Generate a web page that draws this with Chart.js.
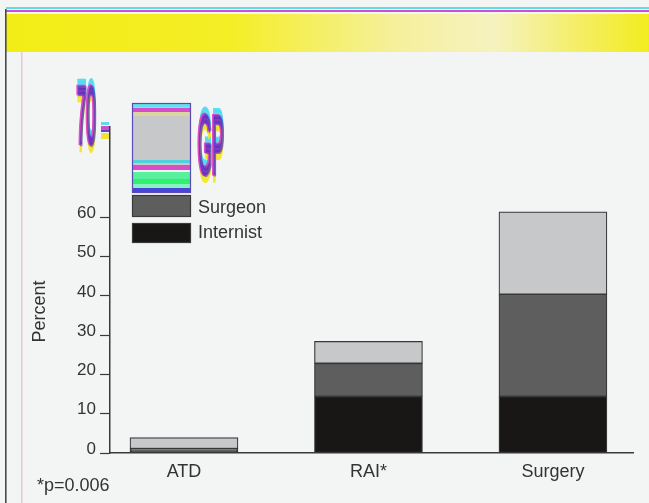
<!DOCTYPE html>
<html>
<head>
<meta charset="utf-8">
<script src="https://cdn.jsdelivr.net/npm/chart.js@4/dist/chart.umd.min.js"></script>
<style>
  html, body { margin: 0; padding: 0; background: #f3f5f5; }
  #wrap { width: 649px; height: 503px; }
</style>
</head>
<body>
<div id="wrap"><canvas id="c" width="649" height="503"></canvas></div>
<script>
// Share of patients per treatment, split by referring physician (%)
const categories = ['ATD', 'RAI*', 'Surgery'];
const internist = [0.5, 14.4, 14.4];
const surgeon = [0.6, 8.4, 26.0];
const gp = [2.8, 5.6, 21.0];
const seriesNames = ['Internist', 'Surgeon', 'GP'];
const yTicks = [0, 10, 20, 30, 40, 50, 60, 70];
const footnote = '*p=0.006';
const yTitle = 'Percent';

const FONT = '"Liberation Sans", Arial, Helvetica, sans-serif';
const TEXT = '#333333';
const fills = ['#181716', '#5e5e5e', '#c6c8ca'];

const toPoints = arr => arr.map((v, i) => ({ x: i, y: v }));

// page frame, banner, axis title, footnote and the legend block
const decor = {
  id: 'decor',
  beforeDraw(chart) {
    const ctx = chart.ctx;
    ctx.save();
    ctx.fillStyle = '#f3f5f5';
    ctx.fillRect(0, 0, chart.width, chart.height);
    // banner
    const g = ctx.createLinearGradient(6, 0, 649, 0);
    g.addColorStop(0, '#f2ec16');
    g.addColorStop(0.35, '#f4ee26');
    g.addColorStop(0.6, '#f5f09a');
    g.addColorStop(0.76, '#f5f2c0');
    g.addColorStop(0.9, '#f4ee60');
    g.addColorStop(1, '#f2ec1e');
    ctx.fillStyle = g;
    ctx.fillRect(6, 14, 643, 38);
    ctx.fillStyle = '#5fdde6';
    ctx.fillRect(6, 7, 643, 2);
    ctx.fillStyle = '#d04ed6';
    ctx.fillRect(6, 10, 643, 2);
    // left rule
    ctx.fillStyle = '#4a4a4a';
    ctx.fillRect(5, 9, 1.6, 494);
    ctx.fillStyle = 'rgba(230,140,170,0.45)';
    ctx.fillRect(21, 52, 1.5, 451);
    ctx.restore();
  },
  afterDraw(chart) {
    const ctx = chart.ctx;
    const y = chart.scales.y;
    ctx.save();
    ctx.fillStyle = TEXT;
    // axis title
    ctx.save();
    ctx.translate(45, 311.5);
    ctx.rotate(-Math.PI / 2);
    ctx.font = '18px ' + FONT;
    ctx.textAlign = 'center';
    ctx.textBaseline = 'alphabetic';
    ctx.fillText(yTitle, 0, 0);
    ctx.restore();
    // footnote
    ctx.font = '18px ' + FONT;
    ctx.textAlign = 'left';
    ctx.textBaseline = 'alphabetic';
    ctx.fillText(footnote, 37, 491);

    // top tick of the value axis, printed stretched
    const topY = y.top;
    const axisX = y.right;
    const ticksTop = topY - 5;
    ctx.fillStyle = '#5fdde6'; ctx.fillRect(axisX - 9, ticksTop, 8, 3);
    ctx.fillStyle = '#d24ccc'; ctx.fillRect(axisX - 9, ticksTop + 4, 8, 4);
    ctx.fillStyle = '#5848c8'; ctx.fillRect(axisX - 9, ticksTop + 8, 8, 2);
    ctx.fillStyle = '#efe23a'; ctx.fillRect(axisX - 9, ticksTop + 11, 8, 6);
    stretched(ctx, String(yTicks[yTicks.length - 1]), 96, 143, 17, 4.8, 'right');

    // legend
    const lx = 132, lw = 59;
    const ds = chart.data.datasets;
    // GP swatch
    ctx.fillStyle = ds[2].backgroundColor;
    ctx.fillRect(lx, 103, lw, 90);
    const bands = [
      [103, 4, '#62e2f0'], [108, 4, '#d64ccc'], [112, 4, '#d9d59c'],
      [160, 3, '#4fd2dc'], [165, 5, '#d84ec8'], [170, 2, '#f2f2f2'],
      [172, 7, '#58f09a'], [179, 5, '#2ff070'], [184, 4, '#8af0c0'],
      [188, 5, '#4646d8']
    ];
    bands.forEach(([by, bh, col]) => { ctx.fillStyle = col; ctx.fillRect(lx, by, lw, bh); });
    ctx.strokeStyle = '#5a4ab8';
    ctx.lineWidth = 1.2;
    ctx.strokeRect(lx + 0.5, 103.5, lw - 1, 89);
    stretched(ctx, ds[2].label, 198, 173, 18, 4.6, 'left');
    // Surgeon and Internist swatches
    ctx.fillStyle = ds[1].backgroundColor;
    ctx.fillRect(lx, 195, lw, 22);
    ctx.strokeStyle = '#3a3a3a';
    ctx.strokeRect(lx + 0.5, 195.5, lw - 1, 21);
    ctx.fillStyle = ds[0].backgroundColor;
    ctx.fillRect(lx, 223, lw, 20);
    ctx.strokeRect(lx + 0.5, 223.5, lw - 1, 19);
    ctx.fillStyle = TEXT;
    ctx.font = '18px ' + FONT;
    ctx.textAlign = 'left';
    ctx.textBaseline = 'alphabetic';
    ctx.fillText(ds[1].label, 198, 213);
    ctx.fillText(ds[0].label, 198, 238);
    ctx.restore();
  }
};

// vertically stretched text with offset colour fringes
function stretched(ctx, text, x, baseline, size, factor, align) {
  const layers = [
    [0, -6, 'rgba(80,220,240,0.95)'],
    [0, 7, 'rgba(245,230,40,0.95)'],
    [-1, 0, 'rgba(220,70,200,0.95)'],
    [0.5, 1, 'rgba(70,50,190,0.6)']
  ];
  layers.forEach(([dx, dy, col]) => {
    ctx.save();
    ctx.translate(x + dx, baseline + dy);
    ctx.scale(1, factor);
    ctx.font = size + 'px ' + FONT;
    ctx.textAlign = align;
    ctx.textBaseline = 'alphabetic';
    ctx.fillStyle = col;
    ctx.strokeStyle = col;
    ctx.lineWidth = 0.9;
    ctx.fillText(text, 0, 0);
    ctx.strokeText(text, 0, 0);
    ctx.restore();
  });
}

const makeSet = (label, values, i) => ({
  label,
  data: toPoints(values),
  backgroundColor: fills[i],
  borderColor: '#383838',
  borderWidth: 1.2,
  borderSkipped: false,
  barThickness: 108
});

new Chart(document.getElementById('c'), {
  type: 'bar',
  data: {
    datasets: [
      makeSet(seriesNames[0], internist, 0),
      makeSet(seriesNames[1], surgeon, 1),
      makeSet(seriesNames[2], gp, 2)
    ]
  },
  options: {
    responsive: false,
    animation: false,
    devicePixelRatio: 1,
    layout: { padding: { top: 127, right: 16, left: 0, bottom: 0 } },
    plugins: { legend: { display: false }, tooltip: { enabled: false }, title: { display: false } },
    scales: {
      x: {
        type: 'linear',
        stacked: true,
        offset: false,
        min: -0.401,
        max: 2.434,
        afterBuildTicks: s => { s.ticks = categories.map((_, i) => ({ value: i })); },
        afterFit: s => { s.height = 50; },
        ticks: {
          callback: v => categories[v],
          color: TEXT,
          font: { family: FONT, size: 18 },
          padding: 8,
          autoSkip: false,
          maxRotation: 0
        },
        grid: { display: true, drawOnChartArea: false, drawTicks: false, offset: false },
        border: { color: '#3a3a3a', width: 1.5 }
      },
      y: {
        stacked: true,
        min: 0,
        max: 83,
        afterBuildTicks: s => { s.ticks = yTicks.slice(0, -1).map(v => ({ value: v })); },
        afterFit: s => { s.width = 110; },
        ticks: {
          callback: v => String(v),
          color: TEXT,
          font: { family: FONT, size: 17 },
          padding: 4,
          labelOffset: -4,
          autoSkip: false
        },
        grid: { drawOnChartArea: false, drawTicks: true, tickLength: 10, color: '#3a3a3a', tickWidth: 1.2 },
        border: { color: '#3a3a3a', width: 1.5 }
      }
    }
  },
  plugins: [decor]
});
</script>
</body>
</html>
